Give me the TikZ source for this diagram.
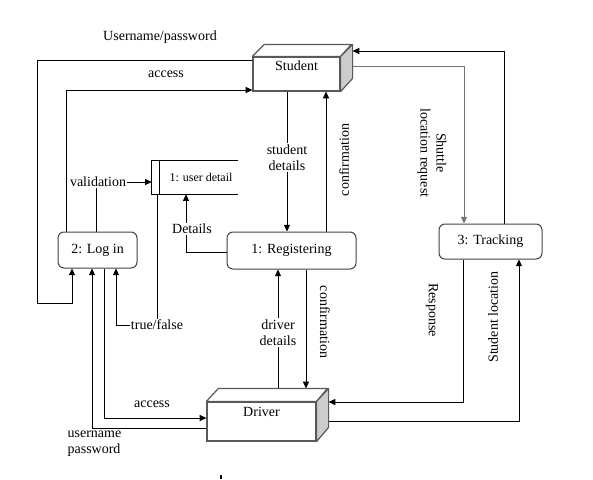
\documentclass[tikz,border=0pt]{standalone}
\usepackage{fontspec}
\setmainfont{Liberation Serif}
\usetikzlibrary{arrows.meta,calc}
\begin{document}
\begin{tikzpicture}[x=0.75pt,y=-0.75pt,
  font=\fontsize{10.5}{12}\selectfont,
  proc/.style={draw=black!75, rounded corners=4.5pt, line width=0.75pt, inner sep=0pt},
  cube/.style={draw=black!65, line width=0.9pt, fill=white, inner sep=0pt, text height=7.5pt},
  face/.style={draw=black!65, line width=0.9pt, line join=round},
  flow/.style={draw, line width=0.6pt, -{Triangle[length=5pt,width=4.5pt]}},
  plain/.style={draw, line width=0.6pt},
  lbl/.style={fill=white, inner sep=1pt, align=center},
  tlbl/.style={inner sep=1pt, align=center}]
\useasboundingbox (0,0) rectangle (593,479);

% external entities (cuboids)
\node[cube, minimum width=65.25pt, minimum height=25.5pt, text depth=13pt] (student) at (296.5,74) {Student};
\draw[face, fill=white] (student.north west) -- ++(12,-12) -- ++(87,0) -- (student.north east) -- cycle;
\draw[face, fill=gray!40] (student.north east) -- ++(12,-12) -- ++(0,34) -- (student.south east) -- cycle;
\coordinate (stuBR) at ($(student.north east)+(12,-12)$);

\node[cube, minimum width=81.75pt, minimum height=29.25pt, text depth=15pt] (driver) at (261.5,421.5) {Driver};
\draw[face, fill=white] (driver.north west) -- ++(12,-13) -- ++(109,0) -- (driver.north east) -- cycle;
\draw[face, fill=gray!40] (driver.north east) -- ++(12,-13) -- ++(0,39) -- (driver.south east) -- cycle;
\coordinate (drvBR) at ($(driver.north east)+(12,-13)$);

% processes
\node[proc, minimum width=96.75pt, minimum height=27.75pt] (reg) at (291.5,250.5) {1: Registering};
\node[proc, minimum width=59.25pt, minimum height=27pt] (login) at (97.5,250) {2: Log in};
\node[proc, minimum width=77.25pt, minimum height=26.25pt] (track) at (490.5,241.5) {3: Tracking};

% data store
\node[minimum width=64.5pt, minimum height=24.75pt, inner sep=0pt] (ds) at (195,177.5) {};
\draw[plain] (ds.north east) -- (ds.north west) -- (ds.south west) -- (ds.south east);
\draw[plain] ($(ds.north west)+(8,0)$) -- ($(ds.south west)+(8,0)$);
\node[tlbl, font=\fontsize{9}{11}\selectfont] (dstext) at (201,177) {1: user detail};

% flows
\draw[flow] (student.west |- 0,60) -- (37,60) -- (37,303) -- (72,303) -- (login.south -| 72,0);
\node[tlbl] (lup) at (160,37) {Username/password};

\draw[flow] (login.north -| 66,0) -- (66,90) -- (student.west |- 0,90);
\node[tlbl] (lacc1) at (166,74) {access};

\draw[flow] (student.south -| 287,0) -- (reg.north -| 287,0)
  node[lbl, pos=0.47] (lsd) {student\\details};

\draw[flow] (reg.north -| 326,0) -- (student.south -| 326,0);
\node[tlbl, rotate=90] (lconf1) at (344,160) {confirmation};

\draw[flow, draw=black!55] (stuBR |- 0,66) -- (464,66) -- (track.north -| 464,0);
\node[tlbl, rotate=-90] (lshut) at (432,153) {Shuttle\\location request};

\draw[flow] (track.north -| 504,0) -- (504,51) -- (stuBR |- 0,51);

\draw[flow] (track.south -| 463,0) -- (463,402) -- (drvBR |- 0,402);
\node[tlbl, rotate=-90] (lresp) at (432,310) {Response};

\draw[flow] (drvBR |- 0,421) -- (519,421) -- (track.south -| 519,0);
\node[tlbl, rotate=90] (lsloc) at (493,317) {Student location};

\draw[flow] (drvBR -| 278,0) -- (reg.south -| 278,0)
  node[lbl, pos=0.47] (ldd) {driver\\details};

\draw[flow] (reg.south -| 306,0) -- (drvBR -| 306,0);
\node[tlbl, rotate=-90] (lconf2) at (325,322) {confirmation};

\draw[flow] (reg.west |- 0,252) -- (186,252) -- (ds.south -| 186,0);
\node[lbl] (ldet) at (192,229) {Details};

\draw[flow] (login.north -| 96,0) -- (96,182) -- (ds.west |- 0,182);
\node[lbl] (lval) at (98,182) {validation};

\draw[flow] (ds.south -| 157,0) -- (157,325) -- (116,325) -- (login.south -| 116,0);
\node[lbl] (ltf) at (157,325) {true/false};

\draw[flow] (driver.west |- 0,428) -- (92,428) -- (login.south -| 92,0);
\node[tlbl, align=left, anchor=north west] (lunp) at (66,429) {username\\password};

\draw[flow] (login.south -| 104,0) -- (104,418) -- (driver.west |- 0,418);
\node[tlbl] (lacc2) at (152,404) {access};

\draw[line width=0.8pt] (221,475) -- (221,479);
\end{tikzpicture}
\end{document}
